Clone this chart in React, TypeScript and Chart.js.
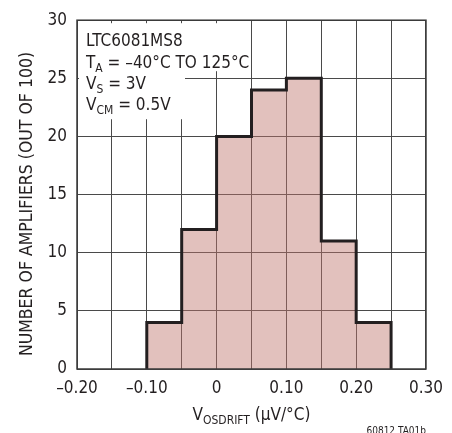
import { useEffect, useRef } from "react";
import { Chart, registerables } from "chart.js";

Chart.register(...registerables);

// bin edges (µV/°C) and number of amplifiers in each bin
const binEdges = [-0.1, -0.05, 0, 0.05, 0.1, 0.15, 0.2, 0.25];
const binCounts = [4, 12, 20, 24, 25, 11, 4];

const xMin = -0.2;
const xMax = 0.3;
const yMin = 0;
const yMax = 30;

const noteLines = [
  { main: "LTC6081MS8", sub: "", rest: "" },
  { main: "T", sub: "A", rest: " = \u201340\u00b0C TO 125\u00b0C" },
  { main: "V", sub: "S", rest: " = 3V" },
  { main: "V", sub: "CM", rest: " = 0.5V" },
];

const FONT = '"Liberation Sans Narrow", "Arial Narrow", "DejaVu Sans Condensed", sans-serif';
const INK = "#231f20";

function fmtX(v: number) {
  const h = Math.round(v * 100);
  if (h % 10 !== 0) return "";
  if (h === 0) return "0";
  const s = (Math.abs(h) / 100).toFixed(2);
  return h < 0 ? "\u2013" + s : s;
}

// outline of the histogram built from the bins
function outline() {
  const pts: { x: number; y: number }[] = [{ x: binEdges[0], y: 0 }];
  binCounts.forEach((c, i) => {
    pts.push({ x: binEdges[i], y: c });
    pts.push({ x: binEdges[i + 1], y: c });
  });
  pts.push({ x: binEdges[binEdges.length - 1], y: 0 });
  return pts;
}

function drawSubText(ctx: CanvasRenderingContext2D, x: number, y: number, main: string, sub: string, rest: string, size: number, subSize: number) {
  ctx.textAlign = "left";
  ctx.textBaseline = "alphabetic";
  ctx.font = `${size}px ${FONT}`;
  ctx.fillText(main, x, y);
  let cx = x + ctx.measureText(main).width;
  if (sub) {
    ctx.font = `${subSize}px ${FONT}`;
    ctx.fillText(sub, cx, y + 4);
    cx += ctx.measureText(sub).width;
  }
  ctx.font = `${size}px ${FONT}`;
  ctx.fillText(rest, cx, y);
  return cx + ctx.measureText(rest).width;
}

const decorations = {
  id: "decorations",
  afterDraw(chart: Chart) {
    const { ctx, chartArea: a } = chart;
    ctx.save();
    // frame
    ctx.strokeStyle = "#3a3a3a";
    ctx.lineWidth = 1.5;
    ctx.strokeRect(a.left, a.top, a.right - a.left, a.bottom - a.top);

    // white boxes behind the note
    ctx.fillStyle = "#fff";
    const tx = a.left + 9;
    ctx.fillRect(a.left + 2, a.top + 3, 168, 48);
    ctx.fillRect(a.left + 2, a.top + 50, 106, 49);

    ctx.fillStyle = INK;
    noteLines.forEach((l, i) => {
      drawSubText(ctx, tx, a.top + 26 + i * 21.3, l.main, l.sub, l.rest, 17, 12);
    });

    // x axis title
    ctx.font = `17px ${FONT}`;
    const mainW = ctx.measureText("V").width;
    ctx.font = `12px ${FONT}`;
    const subW = ctx.measureText("OSDRIFT").width;
    ctx.font = `17px ${FONT}`;
    const restW = ctx.measureText(" (\u00b5V/\u00b0C)").width;
    const cx = (a.left + a.right) / 2;
    drawSubText(ctx, cx - (mainW + subW + restW) / 2, 420, "V", "OSDRIFT", " (\u00b5V/\u00b0C)", 17, 12);

    // y axis title
    ctx.save();
    ctx.translate(27, 204);
    ctx.rotate(-Math.PI / 2);
    ctx.textAlign = "center";
    ctx.textBaseline = "middle";
    ctx.font = `17.5px ${FONT}`;
    ctx.fillText("NUMBER OF AMPLIFIERS (OUT OF 100)", 0, 0);
    ctx.restore();

    // figure code
    ctx.font = `10px ${FONT}`;
    ctx.textAlign = "right";
    ctx.textBaseline = "alphabetic";
    ctx.fillText("60812 TA01b", a.right, 434);
    ctx.restore();
  },
};

export default function App() {
  const chartRef = useRef<HTMLCanvasElement>(null);
  const chartInstance = useRef<Chart | null>(null);

  useEffect(() => {
    if (!chartRef.current) return;
    if (chartInstance.current) chartInstance.current.destroy();

    chartInstance.current = new Chart(chartRef.current, {
      type: "line",
      data: {
        datasets: [
          {
            data: outline(),
            borderColor: INK,
            borderWidth: 3,
            borderJoinStyle: "miter",
            backgroundColor: "rgba(190, 118, 108, 0.45)",
            fill: "origin",
            pointRadius: 0,
            tension: 0,
          },
        ],
      },
      options: {
        animation: false,
        responsive: true,
        maintainAspectRatio: false,
        layout: { padding: { top: 16, right: 23, left: 0, bottom: 0 } },
        plugins: { legend: { display: false }, tooltip: { enabled: false } },
        scales: {
          x: {
            type: "linear",
            min: xMin,
            max: xMax,
            afterFit: (s: any) => { s.height = 64; },
            grid: { color: "#4a4a4a", lineWidth: 1, drawTicks: false },
            border: { display: false },
            ticks: {
              stepSize: 0.05,
              autoSkip: false,
              maxRotation: 0,
              padding: 9,
              color: INK,
              font: { family: FONT, size: 17 },
              callback: (v: any) => fmtX(Number(v)),
            },
          },
          y: {
            min: yMin,
            max: yMax,
            afterFit: (s: any) => { s.width = 77; },
            grid: { color: "#4a4a4a", lineWidth: 1, drawTicks: false },
            border: { display: false },
            ticks: {
              stepSize: 5,
              padding: 10,
              color: INK,
              font: { family: FONT, size: 17 },
            },
          },
        },
      },
      plugins: [decorations],
    });

    return () => {
      if (chartInstance.current) {
        chartInstance.current.destroy();
        chartInstance.current = null;
      }
    };
  }, []);

  return (
    <div style={{ position: "absolute", left: 0, top: 0, width: 452, height: 433, background: "#fff" }}>
      <canvas ref={chartRef}></canvas>
    </div>
  );
}
